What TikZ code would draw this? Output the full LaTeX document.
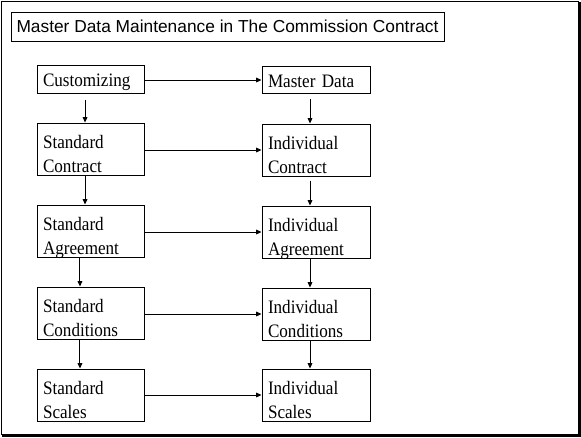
\documentclass[tikz,border=0pt]{standalone}
\usepackage{fontspec}
\setmainfont{Liberation Serif}
\setsansfont{Liberation Sans}
\newfontfamily\boxfont[FakeStretch=0.9]{Liberation Serif}
\usetikzlibrary{arrows.meta, positioning}

\tikzset{
  box/.style={draw, line width=0.75pt, align=left, inner xsep=4.5pt, inner ysep=0pt,
    font=\boxfont\fontsize{14.25pt}{18.4pt}\selectfont},
  lbox/.style={box, minimum width=107*0.75pt, text width=107*0.75pt-9pt},
  rbox/.style={box, minimum width=108*0.75pt, text width=108*0.75pt-9pt},
  onebox/.style={text height=21*0.75pt, text depth=6.5*0.75pt},
  twobox/.style={text height=25*0.75pt, text depth=27*0.75pt},
  flow/.style={-{Triangle[length=4pt,width=3.5pt]}, line width=0.75pt}
}

\begin{document}
\begin{tikzpicture}[x=0.75pt, y=-0.75pt]
        \useasboundingbox (0,0) rectangle (581,437);

        % Frame
        \draw [line width=0.75pt] (1.5,1.5) rectangle (578.5,434.5);
        \draw [line width=1.5pt] (579.5,1.5) -- (579.5,435.5) -- (1.5,435.5);

        % Title
        \node [draw, line width=0.75pt, minimum width=433*0.75pt, minimum height=29*0.75pt,
               font=\sffamily\fontsize{13pt}{15pt}\selectfont] (title) at (227.5,26.5)
              {Master Data Maintenance in The Commission Contract};

        % Left column
        \node [lbox, onebox] (cust) at (90.5,79.5) {Customizing};
        \node [lbox, twobox] (scontract) at (90.5,149) {Standard\\Contract};
        \node [lbox, twobox] (sagree) at (90.5,231) {Standard\\Agreement};
        \node [lbox, twobox] (scond) at (90.5,313) {Standard\\Conditions};
        \node [lbox, twobox] (sscales) at (90.5,395) {Standard\\Scales};

        % Right column
        \node [rbox, onebox] (mdata) at (316,80) {Master Data};
        \node [rbox, twobox] (icontract) at (316,150) {Individual\\Contract};
        \node [rbox, twobox] (iagree) at (316,232) {Individual\\Agreement};
        \node [rbox, twobox] (icond) at (316,314) {Individual\\Conditions};
        \node [rbox, twobox] (iscales) at (316,395) {Individual\\Scales};

        % Arrows across
        \draw [flow] (cust.east |- mdata.west) -- (mdata.west);
        \draw [flow] (scontract.east |- icontract.west) -- (icontract.west);
        \draw [flow] (sagree.east |- iagree.west) -- (iagree.west);
        \draw [flow] (scond.east |- icond.west) -- (icond.west);
        \draw [flow] (sscales.east |- iscales.west) -- (iscales.west);

        % Arrows down, left
        \draw [flow, shorten <=4.5pt] ([xshift=-4.1pt]cust.south) -- ([xshift=-4.1pt]scontract.north);
        \draw [flow] ([xshift=-4.1pt]scontract.south) -- ([xshift=-4.1pt]sagree.north);
        \draw [flow] ([xshift=-7.9pt]sagree.south) -- ([xshift=-7.9pt]scond.north);
        \draw [flow] ([xshift=-7.9pt]scond.south) -- ([xshift=-7.9pt]sscales.north);

        % Arrows down, right
        \draw [flow, shorten <=3.75pt] ([xshift=-4.5pt]mdata.south) -- ([xshift=-4.5pt]icontract.north);
        \draw [flow, shorten <=3pt] ([xshift=-4.5pt]icontract.south) -- ([xshift=-4.5pt]iagree.north);
        \draw [flow] ([xshift=-4.5pt]iagree.south) -- ([xshift=-4.5pt]icond.north);
        \draw [flow] ([xshift=-4.5pt]icond.south) -- ([xshift=-4.5pt]iscales.north);
\end{tikzpicture}
\end{document}
